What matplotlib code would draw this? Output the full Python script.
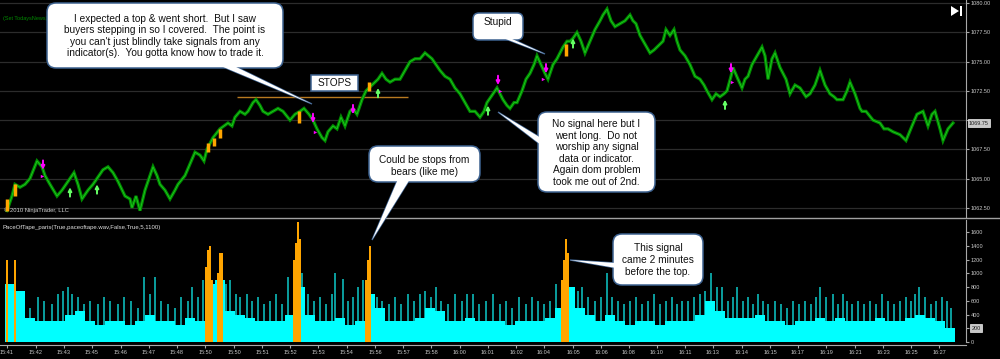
import matplotlib
matplotlib.use("Agg")
import matplotlib.pyplot as plt
from matplotlib.patches import FancyBboxPatch, Polygon, Rectangle
import numpy as np

# ---- price panel data (bar number, last price) ----
bar_idx = [7, 12, 15, 20, 25, 30, 37, 42, 45, 50, 57, 62, 66, 74, 78, 82, 88, 93, 97, 103,
           108, 113, 118, 125, 130, 132, 136, 140, 145, 150, 153, 157, 160, 165, 170, 175, 178, 185, 190, 195,
           200, 204, 207, 213, 220, 228, 232, 235, 240, 245, 248, 253, 256, 260, 263, 268, 273, 278, 283, 290,
           295, 300, 304, 309, 313, 317, 322, 325, 328, 333, 337, 341, 345, 350, 353, 357, 362, 366, 369, 372,
           378, 382, 386, 390, 395, 400, 405, 410, 415, 420, 425, 432, 436, 440, 445, 450, 455, 460, 465, 470,
           475, 480, 484, 487, 493, 497, 500, 503, 507, 510, 514, 517, 522, 526, 530, 534, 537, 541, 545, 548,
           553, 557, 560, 563, 567, 570, 573, 577, 581, 585, 590, 595, 600, 603, 607, 611, 615, 620, 625, 630,
           633, 636, 640, 645, 650, 654, 657, 663, 666, 670, 674, 677, 680, 685, 690, 695, 700, 704, 707, 712,
           716, 720, 724, 727, 731, 733, 738, 742, 745, 748, 752, 757, 762, 765, 768, 772, 775, 780, 786, 790,
           795, 800, 806, 810, 815, 820, 825, 830, 834, 837, 843, 847, 850, 855, 860, 862, 866, 873, 880, 884,
           888, 893, 900, 906, 912, 917, 923, 928, 932, 935, 940, 943, 948, 953]
price = [1062.25, 1063.50, 1064.50, 1064.25, 1064.50, 1065.00, 1066.50, 1066.00, 1065.25, 1064.50,
         1063.50, 1064.00, 1064.50, 1065.50, 1064.50, 1063.25, 1064.00, 1064.50, 1065.00, 1065.75,
         1066.00, 1065.50, 1064.75, 1063.50, 1063.25, 1062.50, 1063.50, 1062.25, 1064.00, 1065.25,
         1066.00, 1065.25, 1064.50, 1064.00, 1063.25, 1064.00, 1064.50, 1065.25, 1066.25, 1067.25,
         1067.00, 1066.50, 1067.50, 1068.50, 1069.25, 1069.75, 1069.50, 1070.25, 1070.75, 1070.50,
         1070.75, 1071.50, 1071.75, 1071.25, 1070.75, 1070.50, 1070.75, 1071.00, 1070.75, 1070.00,
         1070.50, 1070.75, 1071.00, 1070.50, 1070.00, 1069.25, 1068.50, 1068.25, 1069.00, 1069.50,
         1069.25, 1070.25, 1069.50, 1070.75, 1071.00, 1070.50, 1071.75, 1072.50, 1072.75, 1073.00,
         1073.50, 1074.00, 1073.50, 1073.25, 1073.50, 1073.50, 1074.25, 1075.00, 1075.25, 1075.25,
         1075.75, 1075.25, 1074.75, 1074.25, 1073.75, 1073.50, 1072.75, 1072.25, 1071.50, 1070.75,
         1070.75, 1070.25, 1070.75, 1071.50, 1072.25, 1072.75, 1072.25, 1071.75, 1071.25, 1071.00,
         1071.50, 1071.50, 1072.50, 1073.50, 1074.00, 1074.75, 1075.50, 1074.75, 1074.00, 1073.50,
         1074.75, 1075.25, 1075.75, 1076.25, 1076.75, 1076.75, 1077.00, 1077.50, 1076.75, 1075.75,
         1076.75, 1077.75, 1078.50, 1079.00, 1079.50, 1078.50, 1078.00, 1078.25, 1078.50, 1079.00,
         1078.50, 1078.25, 1077.25, 1076.50, 1075.75, 1076.00, 1076.25, 1076.75, 1077.75, 1077.25,
         1077.75, 1076.75, 1076.00, 1075.50, 1074.75, 1073.75, 1073.50, 1073.00, 1072.50, 1071.75,
         1072.25, 1072.00, 1072.25, 1072.50, 1073.75, 1074.50, 1073.50, 1072.75, 1073.50, 1073.75,
         1074.75, 1075.50, 1076.25, 1075.50, 1073.50, 1075.25, 1075.75, 1074.50, 1073.50, 1072.25,
         1073.00, 1072.75, 1072.00, 1072.25, 1073.00, 1074.25, 1073.00, 1072.25, 1072.00, 1071.75,
         1071.75, 1072.50, 1073.25, 1072.25, 1071.00, 1070.75, 1070.75, 1070.00, 1069.75, 1069.25,
         1069.25, 1069.00, 1068.75, 1068.25, 1069.50, 1070.50, 1070.75, 1069.50, 1070.50, 1070.75,
         1069.25, 1068.25, 1069.25, 1069.75]

price_ticks = [1062.50, 1065.00, 1067.50, 1070.00, 1072.50, 1075.00, 1077.50, 1080.00]
stops_level = 1072.00
stops_from, stops_to = 237, 408

sell_x = [43, 313, 353, 498, 546, 731]
sell_tip = [1065.75, 1069.75, 1070.50, 1073.00, 1074.00, 1074.00]
sell_mark_x = [42, 315, 500, 543, 732]
sell_mark_p = [1065.25, 1069.00, 1072.50, 1073.50, 1073.25]
buy_x = [70, 97, 378, 488, 573, 725]
buy_tip = [1064.25, 1064.50, 1072.75, 1071.25, 1077.00, 1071.75]
hot_x = [7, 15, 208, 214, 220, 299, 369, 566]
hot_lo = [1062.25, 1063.50, 1067.25, 1067.75, 1068.50, 1069.75, 1072.50, 1075.50]
hot_hi = [1063.25, 1064.50, 1068.00, 1068.50, 1069.25, 1070.75, 1073.25, 1076.50]

# ---- pace of tape data ----
pace_start, pace_bin = 5, 10
pace_base = [850, 750, 350, 300, 300, 300, 400, 450, 300, 250,
             300, 300, 250, 300, 400, 300, 300, 250, 350, 300,
             850, 900, 450, 400, 350, 300, 300, 300, 400, 800,
             400, 300, 300, 350, 250, 300, 700, 500, 300, 300,
             300, 350, 500, 450, 300, 300, 350, 300, 300, 300,
             250, 300, 300, 300, 350, 500, 800, 500, 400, 300,
             400, 300, 250, 300, 300, 250, 300, 300, 300, 400,
             600, 450, 350, 350, 350, 400, 300, 300, 250, 300,
             300, 350, 300, 350, 300, 300, 300, 350, 300, 300,
             350, 400, 350, 300, 200]
spike_x = [20, 24, 30, 38, 44, 52, 58, 63, 68, 72, 78, 84, 90, 98, 104, 110, 118, 124, 131, 138,
           144, 150, 155, 161, 168, 175, 181, 188, 192, 198, 203, 226, 230, 236, 240, 247, 252, 258, 264, 270,
           276, 282, 288, 302, 308, 314, 320, 326, 332, 335, 343, 348, 353, 358, 363, 377, 382, 389, 395, 401,
           408, 414, 420, 425, 431, 436, 441, 448, 455, 462, 467, 473, 479, 486, 493, 500, 506, 512, 519, 526,
           532, 538, 544, 550, 556, 573, 578, 582, 588, 595, 601, 607, 612, 618, 624, 630, 636, 642, 648, 654,
           660, 666, 672, 677, 682, 688, 694, 700, 705, 711, 717, 722, 728, 733, 737, 743, 748, 753, 758, 763,
           768, 775, 781, 787, 793, 799, 805, 811, 816, 820, 826, 833, 838, 843, 847, 852, 858, 864, 870, 876,
           882, 888, 894, 900, 906, 911, 915, 919, 925, 931, 936, 942, 947, 951]
spike_val = [600, 700, 500, 650, 600, 550, 700, 750, 800, 700, 650, 550, 600, 550, 650, 600, 550, 650, 600, 500,
             950, 700, 950, 600, 550, 500, 650, 600, 800, 650, 900, 850, 900, 700, 650, 700, 600, 650, 550, 600,
             700, 550, 950, 1000, 700, 600, 650, 550, 700, 1000, 920, 600, 650, 800, 900, 650, 600, 550, 650, 550,
             700, 600, 700, 750, 650, 800, 600, 550, 700, 600, 700, 700, 550, 600, 700, 550, 600, 500, 650, 550,
             650, 600, 550, 600, 850, 800, 750, 800, 650, 600, 650, 1000, 650, 600, 550, 600, 650, 550, 600, 700,
             550, 600, 650, 550, 600, 600, 650, 700, 750, 1000, 800, 800, 600, 650, 800, 600, 650, 550, 700, 600,
             550, 600, 550, 500, 600, 550, 600, 550, 650, 800, 650, 700, 550, 700, 600, 550, 600, 550, 600, 550,
             700, 600, 550, 600, 650, 600, 700, 800, 650, 550, 600, 650, 600, 500]
signal_x = [7, 15, 206, 208, 210, 212, 218, 220, 222, 294, 296, 298, 300, 366, 368, 370, 562, 564, 566, 568]
signal_val = [1200, 1200, 1100, 1350, 1400, 900, 1000, 1300, 1300, 1200, 1450, 1750, 1500, 900, 1200, 1400,
              900, 1200, 1500, 1300]
pace_ticks = [0, 200, 400, 600, 800, 1000, 1200, 1400, 1600]

time_pos = [7, 36, 64, 92, 121, 149, 177, 205, 234, 262, 290, 318, 347, 375, 403, 431, 460,
            488, 516, 544, 573, 601, 629, 657, 685, 713, 742, 770, 798, 826, 855, 883, 911, 939]
time_lbl = ["15:41", "15:42", "15:43", "15:45", "15:46", "15:47", "15:48", "15:50", "15:50", "15:51",
            "15:52", "15:53", "15:54", "15:56", "15:57", "15:58", "16:00", "16:01", "16:02", "16:04",
            "16:05", "16:06", "16:08", "16:10", "16:11", "16:13", "16:14", "16:15", "16:17", "16:19",
            "16:21", "16:23", "16:25", "16:27"]

AX_GRAY = '#a8a8a8'
LBL = '#c8c8c8'
plt.rcParams['font.family'] = ['Liberation Sans', 'DejaVu Sans']

fig = plt.figure(figsize=(10, 3.59), dpi=100, facecolor='black')

# ---------------- price panel ----------------
ax_p = fig.add_axes([0, 141 / 359, 0.966, 218 / 359], facecolor='black')
ax_p.set_xlim(0, 966)
ax_p.set_ylim(1061.62, 1080.28)
# the tick next to the last price is covered by the price marker, so leave it blank
last_p = price[-1]
ax_p.set_yticks(price_ticks, ['' if abs(v - last_p) < 0.8 else '%.2f' % v for v in price_ticks])
ax_p.grid(axis='y', color='#2c2c2c', lw=0.9)
ax_p.set_xticks([])
ax_p.yaxis.tick_right()
ax_p.tick_params(axis='y', colors=AX_GRAY, labelcolor=LBL, labelsize=4, length=2.5, pad=1)
for s in ['top', 'left', 'bottom']:
    ax_p.spines[s].set_visible(False)
ax_p.spines['right'].set_color(AX_GRAY)

ax_p.plot(bar_idx, price, color='#008a00', lw=2.3, solid_joinstyle='miter', zorder=3)
ax_p.plot(bar_idx, price, color='#1ec81e', lw=0.6, zorder=4)
ax_p.hlines(stops_level, stops_from, stops_to, color='#b87a20', lw=1, zorder=2)
ax_p.vlines(hot_x, hot_lo, hot_hi, color='#ffa500', lw=2.5, zorder=5)

for x, tip in zip(sell_x, sell_tip):
    ax_p.annotate('', xy=(x, tip), xytext=(x, tip + 0.8),
                  arrowprops=dict(arrowstyle='-|>', color='#ff00ff', lw=1.4, mutation_scale=5,
                                  shrinkA=0, shrinkB=0), zorder=6)
ax_p.scatter(sell_mark_x, sell_mark_p, marker='>', s=6, color='#ff00ff', lw=0, zorder=6)
for x, tip in zip(buy_x, buy_tip):
    ax_p.annotate('', xy=(x, tip), xytext=(x, tip - 0.8),
                  arrowprops=dict(arrowstyle='-|>', color='#66ff66', lw=1.4, mutation_scale=5,
                                  shrinkA=0, shrinkB=0), zorder=6)

ax_p.annotate('%.2f' % last_p, xy=(1.003, last_p), xycoords=('axes fraction', 'data'),
              fontsize=4, color='#202020', va='center', ha='left',
              bbox=dict(boxstyle='square,pad=0.25', fc='#c8c8c8', ec='#eeeeee', lw=0.5),
              annotation_clip=False, zorder=10)
ax_p.text(0.004, 0.022, '\u00a9 2010 NinjaTrader, LLC', transform=ax_p.transAxes,
          fontsize=4.2, color='#d0d0d0', ha='left', va='bottom')
ax_p.text(0.003, 0.915, '(Set TodaysNews)', transform=ax_p.transAxes,
          fontsize=4, color='#008800', ha='left', va='center')

# ---------------- pace of tape panel ----------------
ax_i = fig.add_axes([0, 14 / 359, 0.966, 125 / 359], facecolor='black')
ax_i.set_xlim(0, 966)
ax_i.set_ylim(-44, 1781)
ax_i.bar(spike_x, spike_val, width=2.0, color='#0a9a9a', lw=0, zorder=1)
base_x = pace_start + pace_bin * np.arange(len(pace_base))
ax_i.bar(base_x, pace_base, width=pace_bin, align='edge', color='#00ffff', lw=0, zorder=2)
ax_i.bar(signal_x, signal_val, width=2.2, color='#ffa500', lw=0, zorder=3)
ax_i.yaxis.tick_right()
last_v = pace_base[-1]
ax_i.set_yticks(pace_ticks, ['' if v == last_v else str(v) for v in pace_ticks])
ax_i.set_xticks(time_pos, time_lbl)
ax_i.tick_params(axis='both', colors=AX_GRAY, labelcolor=LBL, labelsize=4, length=2.5, pad=1)
for s in ['top', 'left']:
    ax_i.spines[s].set_visible(False)
ax_i.spines['right'].set_color(AX_GRAY)
ax_i.spines['bottom'].set_color(AX_GRAY)
ax_i.spines['right'].set_bounds(0, 1781)
ax_i.annotate(str(last_v), xy=(1.006, last_v), xycoords=('axes fraction', 'data'),
              fontsize=4, color='#202020', va='center', ha='left',
              bbox=dict(boxstyle='square,pad=0.25', fc='#c8c8c8', ec='#eeeeee', lw=0.5),
              annotation_clip=False, zorder=10)
ax_i.text(0.003, 0.94, 'PaceOfTape_paris(True,paceoftape.wav,False,True,5,1100)', transform=ax_i.transAxes,
          fontsize=4.3, color='#e0e0e0', ha='left', va='center')

# ---------------- overlay: chrome and callouts (pixel coords) ----------------
ov = fig.add_axes([0, 0, 1, 1])
ov.set_xlim(0, 1000)
ov.set_ylim(359, 0)
ov.axis('off')
ov.patch.set_alpha(0)
ov.plot([0, 1000], [218, 218], color='#a0a0a0', lw=1)

# play-to-end icon
ov.add_patch(Polygon([(951, 6), (951, 16), (959, 11)], closed=True, fc='white', ec='none'))
ov.add_patch(Rectangle((960, 6), 2, 10, fc='white', ec='none'))

EDGE = '#3d6290'


def callout(x0, y0, x1, y1, text, tail=None, tx=None, ty=None, rounded=True, r=9):
    if tail is not None:
        ov.add_patch(Polygon(tail, closed=True, fc='white', ec=EDGE, lw=1.0, zorder=20))
    style = 'round,pad=0,rounding_size=%d' % r if rounded else 'square,pad=0'
    ov.add_patch(FancyBboxPatch((x0, y0), x1 - x0, y1 - y0, boxstyle=style,
                                fc='white', ec=EDGE, lw=1.1, zorder=21))
    if tail is not None:
        ov.add_patch(Polygon(tail, closed=True, fc='white', ec='none', zorder=22))
    ov.text((x0 + x1) / 2 if tx is None else tx, (y0 + y1) / 2 if ty is None else ty, text,
            ha='center', va='center', fontsize=7.25, color='#111111', linespacing=1.2, zorder=23)


callout(47, 3, 283, 68,
        "I expected a top & went short.  But I saw\nbuyers stepping in so I covered.  The point is\n"
        "you can't just blindly take signals from any\nindicator(s).  You gotta know how to trade it.",
        tail=[(216, 64), (230, 64), (312, 104)], ty=36)
callout(311, 75, 358, 91, "STOPS", rounded=False)
callout(473, 13, 523, 40, "Stupid", tail=[(503, 38), (510, 38), (545, 54)], ty=22, r=6)
callout(538, 112, 655, 192,
        "No signal here but I\nwent long.  Do not\nworship any signal\ndata or indicator.\n"
        "Again dom problem\ntook me out of 2nd.",
        tail=[(541, 138), (541, 145), (498, 112)], ty=153)
callout(369, 146, 480, 182, "Could be stops from\nbears (like me)",
        tail=[(398, 179), (410, 179), (372, 240)], ty=166)
callout(613, 234, 703, 285, "This signal\ncame 2 minutes\nbefore the top.",
        tail=[(616, 263), (616, 268), (570, 260)], ty=260)

fig.savefig('out.png', dpi=100, facecolor='black')
